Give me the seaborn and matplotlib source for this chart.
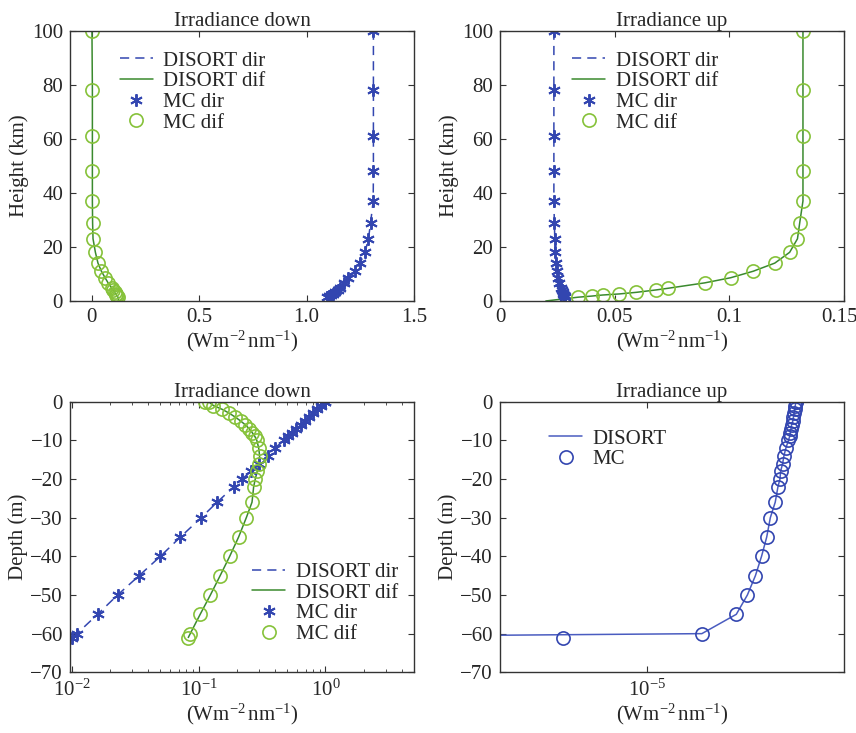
import numpy as np
import pandas as pd
import seaborn as sns
import matplotlib.pyplot as plt
from matplotlib.ticker import NullLocator, LogLocator
from matplotlib.transforms import ScaledTranslation

sns.set_style('ticks')
plt.rcParams['font.family'] = ['Liberation Serif', 'DejaVu Serif']
plt.rcParams['mathtext.fontset'] = 'custom'
plt.rcParams['mathtext.rm'] = 'Liberation Serif'
plt.rcParams['mathtext.it'] = 'Liberation Serif:italic'
plt.rcParams['font.size'] = 15

# atmosphere levels (km)
height = [100, 78, 61, 48, 37, 29, 23, 18, 14, 11, 8.6, 6.7, 4.7, 4.1, 3.2, 2.6, 2.2, 1.8, 1.4]
atm_down_dir = [1.311, 1.311, 1.311, 1.311, 1.310, 1.298, 1.288, 1.272, 1.249, 1.226,
                1.195, 1.175, 1.155, 1.145, 1.132, 1.122, 1.112, 1.104, 1.095]
atm_down_dif = [0.002, 0.004, 0.004, 0.004, 0.004, 0.005, 0.007, 0.018, 0.030, 0.046,
                0.063, 0.077, 0.095, 0.100, 0.107, 0.112, 0.116, 0.120, 0.123]
atm_up_dir = [0.0235, 0.0235, 0.0235, 0.0235, 0.0235, 0.0237, 0.0239, 0.0241, 0.0244, 0.0250,
              0.0254, 0.0258, 0.0264, 0.0269, 0.0273, 0.0276, 0.0279, 0.0282, 0.0283]
atm_up_dif = [0.1321, 0.1321, 0.1321, 0.1321, 0.1321, 0.1307, 0.1297, 0.1263, 0.1198, 0.1104,
              0.1006, 0.0893, 0.0733, 0.0682, 0.0595, 0.0520, 0.0447, 0.0399, 0.0341]
# DISORT extends down to the surface
surf_down_dir, surf_down_dif = 1.08, 0.126
surf_up_dir, surf_up_dif = 0.0285, 0.020

# ocean levels (m)
depth = [0, -0.2, -1, -2, -3, -4, -5, -6, -7, -8, -9, -10, -12, -14, -16, -18, -20, -22,
         -26, -30, -35, -40, -45, -50, -55, -60, -61]
sea_down_dir = [1.0, 0.985, 0.93, 0.86, 0.80, 0.74, 0.69, 0.64, 0.59, 0.55, 0.51, 0.47, 0.40,
                0.35, 0.30, 0.26, 0.22, 0.19, 0.14, 0.105, 0.072, 0.050, 0.034, 0.023, 0.016,
                0.011, 0.010]
sea_down_dif = [0.113, 0.122, 0.131, 0.154, 0.175, 0.195, 0.215, 0.234, 0.251, 0.265, 0.278,
                0.288, 0.298, 0.303, 0.300, 0.290, 0.280, 0.272, 0.264, 0.238, 0.207, 0.176,
                0.148, 0.124, 0.103, 0.086, 0.083]
sea_up = [2.59e-5, 2.59e-5, 2.58e-5, 2.57e-5, 2.56e-5, 2.55e-5, 2.54e-5, 2.52e-5, 2.51e-5,
          2.50e-5, 2.49e-5, 2.47e-5, 2.43e-5, 2.40e-5, 2.38e-5, 2.35e-5, 2.34e-5, 2.31e-5,
          2.27e-5, 2.20e-5, 2.15e-5, 2.08e-5, 2.00e-5, 1.90e-5, 1.77e-5, 1.42e-5, 5.83e-6]
disort_sea_up_bottom = 6e-7

top_xticks_left = [0, 0.5, 1.0, 1.5]
top_xlabels_left = ['0', '0.5', '1.0', '1.5']
top_xticks_right = [0, 0.05, 0.1, 0.15]
top_xlabels_right = ['0', '0.05', '0.1', '0.15']

BLUE = '#3346b0'
DKGREEN = '#3a8a2e'
LTGREEN = '#86c23a'
AXC = '#333333'
unit = r'(Wm$^{-2}\,$nm$^{-1}$)'

fig = plt.figure(figsize=(8.56, 7.33), dpi=100)
ax1 = fig.add_axes([0.0818, 0.5894, 0.4019, 0.3688])
ax2 = fig.add_axes([0.5841, 0.5894, 0.4019, 0.3688])
ax3 = fig.add_axes([0.0818, 0.0828, 0.4019, 0.3692])
ax4 = fig.add_axes([0.5841, 0.0828, 0.4019, 0.3692])


def profile(ax, x_mc_dir, x_mc_dif, x_ds_dir, x_ds_dif, y_mc, y_ds):
    sns.lineplot(x=x_ds_dir, y=y_ds, sort=False, estimator=None, ax=ax, color=BLUE,
                 lw=1.1, dashes=False, linestyle=(0, (6, 4)), label='DISORT dir')
    sns.lineplot(x=x_ds_dif, y=y_ds, sort=False, estimator=None, ax=ax, color=DKGREEN,
                 lw=1.1, label='DISORT dif')
    sns.lineplot(x=x_mc_dir, y=y_mc, sort=False, estimator=None, ax=ax, color=BLUE,
                 linestyle='', marker=(6, 2, 0), markersize=9, mew=1.4, mec=BLUE,
                 label='MC dir')
    sns.lineplot(x=x_mc_dif, y=y_mc, sort=False, estimator=None, ax=ax, color=LTGREEN,
                 linestyle='', marker='o', markersize=9.5, mfc='none', mew=1.2, mec=LTGREEN,
                 label='MC dif')


h_ds = height + [0]
profile(ax1, atm_down_dir, atm_down_dif, atm_down_dir + [surf_down_dir],
        atm_down_dif + [surf_down_dif], height, h_ds)
profile(ax2, atm_up_dir, atm_up_dif, atm_up_dir + [surf_up_dir],
        atm_up_dif + [surf_up_dif], height, h_ds)
profile(ax3, sea_down_dir, sea_down_dif, sea_down_dir, sea_down_dif, depth, depth)

sns.lineplot(x=sea_up[:-1] + [disort_sea_up_bottom], y=depth, sort=False, estimator=None,
             ax=ax4, color='#4a5cc0', lw=1.1, label='DISORT')
sns.lineplot(x=sea_up, y=depth, sort=False, estimator=None, ax=ax4, color=BLUE,
             linestyle='', marker='o', markersize=9.5, mfc='none', mew=1.2, mec=BLUE, label='MC')

ax1.set_xlim(-0.1, 1.5)
ax1.set_xticks(top_xticks_left)
ax1.set_xticklabels(top_xlabels_left)
ax2.set_xlim(0, 0.15)
ax2.set_xticks(top_xticks_right)
ax2.set_xticklabels(top_xlabels_right)
for ax in (ax1, ax2):
    ax.set_ylim(0, 100)
    ax.set_yticks([0, 20, 40, 60, 80, 100])
    ax.set_ylabel('Height (km)')

ax3.set_xscale('log')
ax3.set_xlim(0.0097, 5.0)
ax3.xaxis.set_major_locator(LogLocator(base=10, numticks=10))
ax3.xaxis.set_minor_locator(LogLocator(base=10, subs=np.arange(2, 10), numticks=20))
ax4.set_xscale('log')
ax4.set_xlim(10 ** -5.408, 10 ** -4.453)
ax4.xaxis.set_minor_locator(NullLocator())
for ax in (ax3, ax4):
    ax.set_ylim(-70, 0)
    ax.set_yticks([0, -10, -20, -30, -40, -50, -60, -70])
    ax.set_ylabel('Depth (m)')

for ax, t in zip((ax1, ax2, ax3, ax4),
                 ('Irradiance down', 'Irradiance up', 'Irradiance down', 'Irradiance up')):
    ax.set_title(t, fontsize=15, pad=3)
    ax.set_xlabel(unit, labelpad=1)
    ax.yaxis.labelpad = 2
    ax.tick_params(which='both', direction='in', top=True, right=True, labelsize=15,
                   color=AXC, pad=5)
    ax.tick_params(which='major', length=4)
    ax.tick_params(which='minor', length=2)
    for s in ax.spines.values():
        s.set_color(AXC)
        s.set_linewidth(1.0)

# keep the last label of the top-right panel inside the picture
last = ax2.get_xticklabels()[-1]
last.set_transform(last.get_transform() + ScaledTranslation(-5 / 100, 0, fig.dpi_scale_trans))

leg_kw = dict(frameon=False, fontsize=15, handlelength=1.6, handletextpad=0.5,
              labelspacing=0.05, borderaxespad=0)
ax1.legend(loc='upper left', bbox_to_anchor=(0.12, 0.955), **leg_kw)
ax2.legend(loc='upper left', bbox_to_anchor=(0.185, 0.955), **leg_kw)
ax3.legend(loc='lower left', bbox_to_anchor=(0.505, 0.074), **leg_kw)
ax4.legend(loc='upper left', bbox_to_anchor=(0.118, 0.93), **leg_kw)

fig.savefig('out.png', dpi=100)
